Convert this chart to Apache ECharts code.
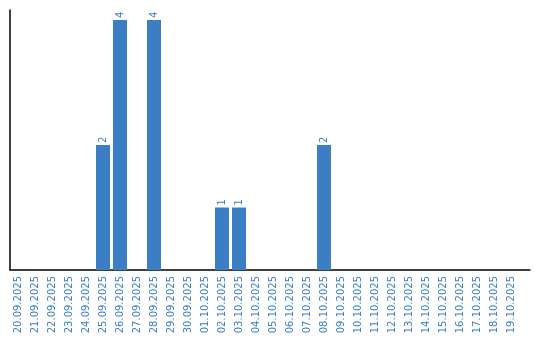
<!DOCTYPE html>
<html><head><meta charset="utf-8">
<script src="https://cdn.jsdelivr.net/npm/echarts@6/dist/echarts.min.js"></script>
<style>html,body{margin:0;padding:0;background:#fff}#c{width:540px;height:340px}</style>
</head><body><div id="c"></div>
<script>
const categories = ["20.09.2025","21.09.2025","22.09.2025","23.09.2025","24.09.2025","25.09.2025","26.09.2025","27.09.2025","28.09.2025","29.09.2025","30.09.2025","01.10.2025","02.10.2025","03.10.2025","04.10.2025","05.10.2025","06.10.2025","07.10.2025","08.10.2025","09.10.2025","10.10.2025","11.10.2025","12.10.2025","13.10.2025","14.10.2025","15.10.2025","16.10.2025","17.10.2025","18.10.2025","19.10.2025"];
const values = [0,0,0,0,0,2,4,0,4,0,0,0,1,1,0,0,0,0,2,0,0,0,0,0,0,0,0,0,0,0];
const blue = '#3b7ec3';
const chart = echarts.init(document.getElementById('c'));
chart.setOption({
  animation:false,
  grid:[{left:9.5,right:20.5,top:10,bottom:70},{left:10,right:10,top:10,bottom:70}],
  xAxis:[{type:'category',gridIndex:0,data:categories,
    axisLine:{show:false},axisTick:{show:false},
    axisLabel:{rotate:90,interval:0,color:blue,fontFamily:'DejaVu Sans',fontSize:10,margin:6}},
    {type:'value',gridIndex:1,min:0,max:1,axisLine:{show:true,lineStyle:{color:'#000',width:1.5}},axisTick:{show:false},axisLabel:{show:false},splitLine:{show:false}}],
  yAxis:[{type:'value',gridIndex:0,min:0,max:4.16,axisLine:{show:true,lineStyle:{color:'#000',width:1.5}},axisTick:{show:false},axisLabel:{show:false},splitLine:{show:false}},
    {type:'value',gridIndex:1,min:0,max:1,show:false}],
  series:[{type:'bar',xAxisIndex:0,yAxisIndex:0,data:values.map(v=>v===0?null:v),barWidth:14,
    itemStyle:{color:blue},
    label:{show:true,position:'top',rotate:90,align:'left',verticalAlign:'middle',distance:2,color:blue,fontFamily:'DejaVu Sans',fontSize:10}}]
});
</script></body></html>
